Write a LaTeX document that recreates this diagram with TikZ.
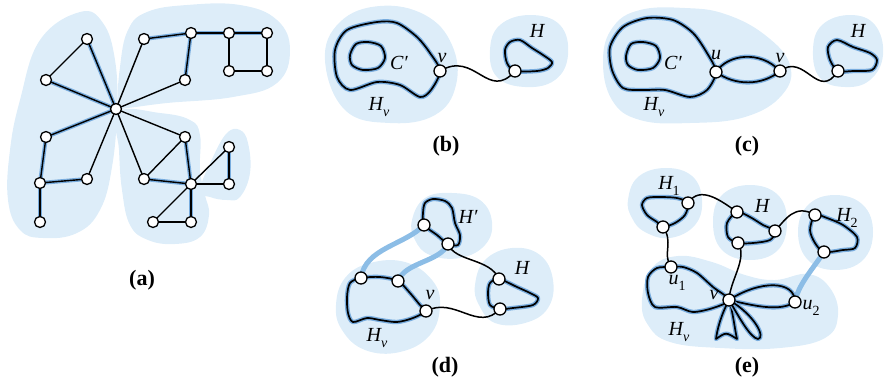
\documentclass[tikz,border=0pt]{standalone}
\usepackage{fontspec}
\setmainfont{Liberation Serif}
\pgfdeclarelayer{bg}
\pgfdeclarelayer{mid}
\pgfsetlayers{bg,mid,main}
\definecolor{blobc}{RGB}{221,237,249}
\definecolor{haloc}{RGB}{120,172,222}
\definecolor{bandc}{RGB}{140,189,230}
\newcommand\sbs[1]{\raisebox{-0.28em}{\fontsize{14}{14}\selectfont #1}}
\tikzset{
  vtx/.style={circle,draw=black,fill=white,line width=1.3pt,minimum size=12pt,inner sep=0pt},
  vtxs/.style={vtx,minimum size=11pt},
  blob/.style={fill=blobc},
  plainedge/.style={draw=black,line width=1.4pt},
  hl/.style={plainedge,preaction={draw=haloc,line width=4pt}},
  loopc/.style={draw=black,line width=1.7pt,line join=round,preaction={draw=haloc,line width=4.4pt,line join=round}},
  wig/.style={draw=black,line width=1.5pt},
  band/.style={draw=bandc,line width=5pt},
  lbl/.style={font=\fontsize{20}{20}\selectfont\itshape,inner sep=0pt},
  captxt/.style={font=\fontsize{22}{22}\selectfont\bfseries,inner sep=0pt}
}
\begin{document}
\begin{tikzpicture}[x=1pt,y=-1pt]
\useasboundingbox (0,0) rectangle (889,389);
% ---------- (a) ----------
\node[vtxs] (a0) at (116,109) {};
\node[vtxs] (a1) at (87,39) {};
\node[vtxs] (a2) at (46,80) {};
\node[vtxs] (a3) at (144,39) {};
\node[vtxs] (a4) at (191,33) {};
\node[vtxs] (a5) at (229,33) {};
\node[vtxs] (a6) at (267,33) {};
\node[vtxs] (a7) at (229,71) {};
\node[vtxs] (a8) at (267,71) {};
\node[vtxs] (a9) at (185,80) {};
\node[vtxs] (a10) at (46,137) {};
\node[vtxs] (a11) at (40,183) {};
\node[vtxs] (a12) at (87,179) {};
\node[vtxs] (a13) at (40,222) {};
\node[vtxs] (a14) at (185,137) {};
\node[vtxs] (a15) at (144,179) {};
\node[vtxs] (a16) at (191,184) {};
\node[vtxs] (a17) at (229,147) {};
\node[vtxs] (a18) at (229,184) {};
\node[vtxs] (a19) at (153,222) {};
\node[vtxs] (a20) at (191,222) {};
\node[captxt] (capa) at (142,280) {(a)};
\begin{pgfonlayer}{bg}
\fill[blob] plot[smooth cycle, tension=0.7] coordinates {(80,12) (103,23) (115,60) (117,110) (112,167) (100,210) (77,233) (43,238) (20,230) (8,200) (10,150) (20,100) (40,40)};
\fill[blob] plot[smooth cycle, tension=0.7] coordinates {(118,107) (120,67) (128,30) (147,12) (187,5) (240,5) (277,20) (290,50) (277,83) (233,97) (167,103) (127,108)};
\fill[blob] plot[smooth cycle, tension=0.7] coordinates {(118,112) (160,113) (190,120) (200,135) (200,170) (205,195) (209,215) (200,237) (175,244) (148,240) (130,225) (122,190) (119,150)};
\fill[blob] plot[smooth cycle, tension=0.7] coordinates {(200,190) (213,157) (227,133) (240,130) (248,143) (250,173) (240,197) (227,200) (210,197)};
\end{pgfonlayer}
\begin{pgfonlayer}{mid}
\foreach \p/\q in {a0/a1,a0/a2,a3/a4,a4/a5,a5/a6,a4/a9,a0/a10,a10/a11,a11/a12,a11/a13,a14/a16,a15/a16,a17/a18,a20/a16}
  \path[hl] (\p.center) -- (\q.center);
\foreach \p/\q in {a2/a1,a0/a3,a5/a7,a6/a8,a7/a8,a9/a0,a12/a0,a0/a14,a0/a15,a14/a15,a16/a17,a16/a18,a16/a19,a19/a20}
  \path[plainedge] (\p.center) -- (\q.center);
\end{pgfonlayer}
% ---------- (b) ----------
\node[vtx] (bv) at (440,71) {};
\node[vtx] (bw) at (515,71) {};
\node[lbl] (bvl) at (442,58) {v};
\node[lbl] (bcl) at (399,63) {C′};
\node[lbl] (bhvl) at (379,107) {H\sbs{v}};
\node[lbl] (bhl) at (537,31) {H};
\node[captxt] (capb) at (446,146) {(b)};
\begin{pgfonlayer}{bg}
\fill[blob] plot[smooth cycle, tension=0.7] coordinates {(325,60) (340,22) (380,6) (425,15) (452,45) (456,85) (435,115) (390,123) (345,110)};
\fill[blob] plot[smooth cycle, tension=0.7] coordinates {(490,50) (500,25) (530,15) (560,25) (568,55) (555,80) (525,87) (497,77)};
\end{pgfonlayer}
\begin{pgfonlayer}{mid}
\path[loopc] plot[smooth cycle] coordinates {(bv.center) (430,53) (417,37) (397,23) (377,22) (347,30) (335,50) (337,77) (350,90) (377,82) (400,85) (420,97) (431,90)};
\path[loopc] plot[smooth cycle] coordinates {(350,55) (356,44) (368,42) (381,46) (385,58) (378,68) (363,70) (352,65)};
\path[loopc] plot[smooth cycle] coordinates {(bw.center) (507,63) (505,50) (510,42) (520,40) (532,48) (543,55) (552,62) (548,68) (537,71)};
\path[wig] (bv.center) .. controls (475,50) and (488,102) .. (bw.center);
\end{pgfonlayer}
% ---------- (c) ----------
\node[vtx] (cu) at (716,72) {};
\node[vtx] (cv) at (780,71) {};
\node[vtx] (cw) at (838,71) {};
\node[lbl] (cul) at (716,55) {u};
\node[lbl] (cvl) at (780,58) {v};
\node[lbl] (ccl) at (673,63) {C′};
\node[lbl] (chvl) at (654,107) {H\sbs{v}};
\node[lbl] (chl) at (858,31) {H};
\node[captxt] (capc) at (747,146) {(c)};
\begin{pgfonlayer}{bg}
\fill[blob] plot[smooth cycle, tension=0.7] coordinates {(603,60) (613,27) (640,10) (685,8) (725,14) (765,35) (790,65) (782,95) (745,117) (690,123) (640,120) (612,100)};
\fill[blob] plot[smooth cycle, tension=0.7] coordinates {(813,50) (822,25) (850,15) (875,25) (883,55) (870,80) (845,87) (820,78)};
\end{pgfonlayer}
\begin{pgfonlayer}{mid}
\path[loopc] plot[smooth cycle] coordinates {(cu.center) (707,53) (693,33) (673,20) (647,18) (623,27) (610,47) (612,70) (623,88) (643,90) (665,90) (690,97) (707,90)};
\path[loopc] plot[smooth cycle] coordinates {(626,56) (631,44) (643,42) (656,46) (660,58) (653,68) (638,70) (628,65)};
\path[loopc] (cu.center) .. controls (728,54) and (760,50) .. (cv.center);
\path[loopc] (cu.center) .. controls (735,86) and (762,86) .. (cv.center);
\path[loopc] plot[smooth cycle] coordinates {(cw.center) (830,60) (828,47) (837,40) (853,47) (870,53) (877,60) (872,70) (853,71)};
\path[wig] (cv.center) .. controls (805,52) and (818,102) .. (cw.center);
\end{pgfonlayer}
% ---------- (d) ----------
\node[vtx] (dA) at (424,225) {};
\node[vtx] (dB) at (448,244) {};
\node[vtx] (dC) at (499,279) {};
\node[vtx] (dD) at (500,309) {};
\node[vtx] (d1) at (361,278) {};
\node[vtx] (d2) at (398,281) {};
\node[vtx] (dv) at (426,311) {};
\node[lbl] (dhpl) at (468,217) {H′};
\node[lbl] (dhl) at (522,268) {H};
\node[lbl] (dvl) at (430,295) {v};
\node[lbl] (dhvl) at (377,338) {H\sbs{v}};
\node[captxt] (capd) at (445,367) {(d)};
\begin{pgfonlayer}{bg}
\fill[blob] plot[smooth cycle, tension=0.7] coordinates {(412,220) (425,198) (452,193) (480,200) (492,222) (485,245) (460,258) (430,255) (415,240)};
\fill[blob] plot[smooth cycle, tension=0.7] coordinates {(475,285) (485,260) (512,248) (540,255) (553,280) (548,308) (525,323) (495,323) (479,305)};
\fill[blob] plot[smooth cycle, tension=0.7] coordinates {(336,305) (345,278) (370,263) (405,262) (432,280) (440,305) (430,335) (400,352) (365,350) (342,330)};
\end{pgfonlayer}
\begin{pgfonlayer}{mid}
\path[band] (d1.center) .. controls (365,248) and (405,245) .. (dA.center);
\path[band] (d2.center) .. controls (405,262) and (440,262) .. (dB.center);
\path[loopc] plot[smooth cycle] coordinates {(dA.center) (423,213) (425,203) (433,199) (445,201) (452,208) (455,223) (460,235) (458,245) (dB.center) (437,235)};
\path[loopc] plot[smooth cycle] coordinates {(dC.center) (490,283) (488,293) (490,305) (dD.center) (513,308) (533,305) (538,298) (530,293) (517,287)};
\path[loopc] plot[smooth cycle] coordinates {(d1.center) (380,277) (d2.center) (410,293) (420,305) (dv.center) (413,318) (397,322) (380,320) (367,318) (353,322) (348,313) (347,297) (350,283)};
\path[wig] (dv.center) .. controls (455,296) and (478,333) .. (dD.center);
\path[wig] (dB.center) .. controls (455,262) and (490,258) .. (dC.center);
\end{pgfonlayer}
% ---------- (e) ----------
\node[vtx] (e1a) at (688,203) {};
\node[vtx] (e1b) at (663,227) {};
\node[vtx] (eHa) at (737,212) {};
\node[vtx] (eHb) at (775,231) {};
\node[vtx] (eHc) at (738,243) {};
\node[vtx] (e2a) at (815,215) {};
\node[vtx] (e2b) at (824,252) {};
\node[vtx] (eu1) at (671,267) {};
\node[vtx] (ev) at (729,300) {};
\node[vtx] (eu2) at (795,302) {};
\node[lbl] (eh1l) at (669,186) {H\sbs{\upshape 1}};
\node[lbl] (ehl) at (762,206) {H};
\node[lbl] (eh2l) at (847,218) {H\sbs{\upshape 2}};
\node[lbl] (eu1l) at (677,283) {u\sbs{\upshape 1}};
\node[lbl] (evl) at (714,295) {v};
\node[lbl] (eu2l) at (811,308) {u\sbs{\upshape 2}};
\node[lbl] (ehvl) at (679,332) {H\sbs{v}};
\node[captxt] (cape) at (747,367) {(e)};
\begin{pgfonlayer}{bg}
\fill[blob] plot[smooth cycle, tension=0.7] coordinates {(628,200) (638,177) (665,168) (692,176) (702,200) (695,225) (670,238) (645,232) (632,218)};
\fill[blob] plot[smooth cycle, tension=0.7] coordinates {(713,222) (722,195) (750,185) (778,195) (787,222) (778,250) (750,260) (722,250)};
\fill[blob] plot[smooth cycle, tension=0.7] coordinates {(798,232) (808,205) (835,195) (863,205) (873,232) (863,260) (835,270) (808,260)};
\fill[blob] plot[smooth cycle, tension=0.7] coordinates {(642,300) (652,268) (678,256) (712,262) (745,275) (775,280) (808,274) (830,288) (838,315) (825,338) (780,348) (720,348) (670,342) (648,325)};
\end{pgfonlayer}
\begin{pgfonlayer}{mid}
\path[band] (e2b.center) .. controls (812,270) and (798,285) .. (eu2.center);
\path[loopc] plot[smooth cycle] coordinates {(e1a.center) (677,198) (660,197) (647,198) (642,205) (647,215) (657,222) (e1b.center) (675,223) (685,215)};
\path[loopc] plot[smooth cycle] coordinates {(eHa.center) (750,217) (763,225) (eHb.center) (770,240) (753,243) (eHc.center) (728,237) (727,223)};
\path[loopc] plot[smooth cycle] coordinates {(e2a.center) (827,218) (843,225) (857,237) (855,248) (843,250) (e2b.center) (815,243) (810,230)};
\path[loopc] plot[smooth cycle] coordinates {(ev.center) (713,287) (697,273) (683,267) (eu1.center) (657,268) (648,277) (648,293) (655,307) (677,307) (693,312) (713,308)};
\path[loopc] (ev.center) .. controls (760,280) and (795,280) .. (eu2.center);
\path[loopc] (ev.center) .. controls (755,306) and (780,312) .. (eu2.center);
\path[loopc] (ev.center) .. controls (721,315) and (717,330) .. (716,339) .. controls (726,332) .. (737,339) .. controls (734,325) and (733,312) .. (ev.center);
\path[loopc] (ev.center) .. controls (738,315) and (750,338) .. (758,339) .. controls (766,338) and (755,315) .. (ev.center);
\path[wig] (e1a.center) .. controls (700,185) and (720,200) .. (eHa.center);
\path[wig] (eHb.center) .. controls (785,220) and (795,203) .. (e2a.center);
\path[wig] (e1b.center) .. controls (674,242) and (662,254) .. (eu1.center);
\path[wig] (eHc.center) .. controls (748,258) and (730,280) .. (ev.center);
\end{pgfonlayer}
\end{tikzpicture}
\end{document}
